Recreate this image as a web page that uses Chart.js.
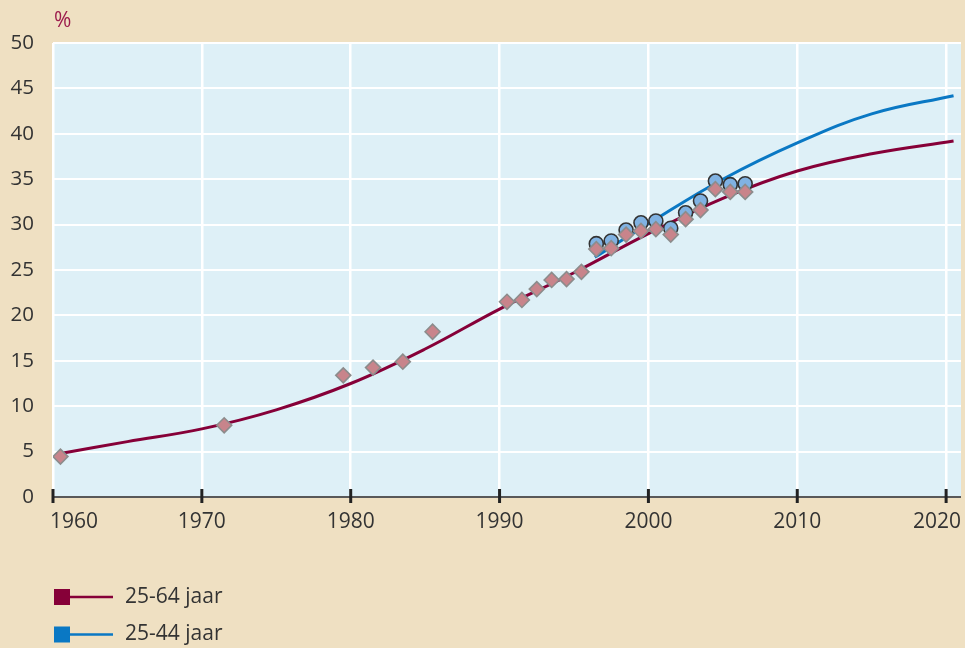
<!DOCTYPE html>
<html>
<head>
<meta charset="utf-8">
<script src="https://cdn.jsdelivr.net/npm/chart.js@4"></script>
<style>
  html, body { margin: 0; padding: 0; background: #efe0c2; }
  #chart { display: block; }
</style>
</head>
<body>
<canvas id="chart" width="965" height="648"></canvas>
<script>
// trend lines
var trendYears64 = [1960.5, 1965, 1970, 1975, 1980, 1985, 1990, 1995, 2000, 2005, 2010, 2015, 2020.5];
var trend64 = [4.8, 6.1, 7.5, 9.6, 12.5, 16.3, 20.7, 24.7, 29.0, 32.9, 35.9, 37.8, 39.2];
var trendYears44 = [1996.4, 2000, 2005, 2010, 2015, 2020.5];
var trend44 = [26.4, 30.1, 35.0, 39.0, 42.2, 44.2];

// observed values
var obsYears64 = [1960.5, 1971.5, 1979.5, 1981.5, 1983.5, 1985.5, 1990.5, 1991.5, 1992.5, 1993.5, 1994.5, 1995.5,
                  1996.5, 1997.5, 1998.5, 1999.5, 2000.5, 2001.5, 2002.5, 2003.5, 2004.5, 2005.5, 2006.5];
var obs64 = [4.45, 7.9, 13.4, 14.25, 14.9, 18.2, 21.5, 21.7, 22.9, 23.9, 24.0, 24.8,
             27.3, 27.4, 28.9, 29.3, 29.5, 28.9, 30.6, 31.6, 33.9, 33.6, 33.6];
var obsYears44 = [1996.5, 1997.5, 1998.5, 1999.5, 2000.5, 2001.5, 2002.5, 2003.5, 2004.5, 2005.5, 2006.5];
var obs44 = [27.9, 28.2, 29.4, 30.2, 30.4, 29.6, 31.3, 32.6, 34.8, 34.4, 34.5];

var xTicks = [1960, 1970, 1980, 1990, 2000, 2010, 2020];
var legendLabels = ["25-64 jaar", "25-44 jaar"];
var unitLabel = "%";

var FONT = '"Open Sans", "Noto Sans", sans-serif';
var RED = "#860038";
var BLUE = "#0a78c4";

function toPoints(xs, ys){
    var pts = [];
    for(let i=0; i<xs.length; i++){
        pts.push({x: xs[i], y: ys[i]});
    }
    return pts;
}

var extras = {
    id: "extras",
    beforeDraw: function(chart){
        var ctx = chart.ctx, a = chart.chartArea;
        ctx.save();
        ctx.fillStyle = "#efe0c2";
        ctx.fillRect(0, 0, chart.width, chart.height);
        ctx.fillStyle = "#def0f7";
        ctx.fillRect(a.left, a.top, a.right - a.left, a.bottom - a.top);
        ctx.restore();
    },
    afterDraw: function(chart){
        var ctx = chart.ctx, a = chart.chartArea, xs = chart.scales.x;
        ctx.save();
        // axis line
        ctx.strokeStyle = "#222";
        ctx.lineWidth = 1.6;
        ctx.beginPath();
        ctx.moveTo(a.left, a.bottom);
        ctx.lineTo(a.right, a.bottom);
        ctx.stroke();
        // tick marks + labels
        ctx.font = "21px " + FONT;
        ctx.fillStyle = "#333";
        ctx.textBaseline = "middle";
        ctx.textAlign = "left";
        for(let i=0; i<xTicks.length; i++){
            var px = xs.getPixelForValue(xTicks[i]);
            ctx.lineWidth = 3;
            ctx.beginPath();
            ctx.moveTo(px, a.bottom - 8);
            ctx.lineTo(px, a.bottom + 6);
            ctx.stroke();
            var label = String(xTicks[i]);
            var w = ctx.measureText(label).width;
            var left = px - w / 2;
            if(left < a.left - 3) left = a.left - 3;
            if(left + w > a.right) left = a.right - w;
            ctx.fillText(label, left, 522);
        }
        // unit
        ctx.fillStyle = "#9c1c4c";
        ctx.fillText(unitLabel, 54, 21);
        // legend
        var colors = [RED, BLUE];
        for(let i=0; i<legendLabels.length; i++){
            var cy = 597 + i * 37.5;
            ctx.fillStyle = colors[i];
            ctx.fillRect(54, cy - 8, 16, 16);
            ctx.strokeStyle = colors[i];
            ctx.lineWidth = 2.5;
            ctx.beginPath();
            ctx.moveTo(69, cy);
            ctx.lineTo(113, cy);
            ctx.stroke();
            ctx.fillStyle = "#333";
            ctx.fillText(legendLabels[i], 125, cy);
        }
        ctx.restore();
    }
};

new Chart(document.getElementById("chart"), {
    type: "scatter",
    plugins: [extras],
    data: {
        datasets: [
            {
                label: legendLabels[0], data: toPoints(trendYears64, trend64),
                showLine: true, borderColor: RED, borderWidth: 3, pointRadius: 0,
                tension: 0.4, order: 3
            },
            {
                label: legendLabels[1], data: toPoints(trendYears44, trend44),
                showLine: true, borderColor: BLUE, borderWidth: 3, pointRadius: 0,
                tension: 0.4, order: 2
            },
            {
                label: "obs 25-44", data: toPoints(obsYears44, obs44),
                pointStyle: "circle", pointRadius: 7, backgroundColor: "#80b2e2",
                borderColor: "#333", borderWidth: 1.6, order: 1
            },
            {
                label: "obs 25-64", data: toPoints(obsYears64, obs64),
                pointStyle: "rectRot", pointRadius: 7.5, backgroundColor: "#c8848b",
                borderColor: "#8c8c8c", borderWidth: 1.6, order: 0
            }
        ]
    },
    options: {
        responsive: false,
        animation: false,
        layout: { autoPadding: false, padding: { left: 0, top: 43, right: 4, bottom: 151 } },
        plugins: { legend: { display: false }, tooltip: { enabled: false } },
        scales: {
            x: {
                type: "linear", min: 1960, max: 2021,
                afterBuildTicks: function(axis){ axis.ticks = xTicks.map(function(v){ return {value: v}; }); },
                afterFit: function(axis){ axis.height = 0; },
                ticks: { display: false },
                grid: { color: "#ffffff", lineWidth: 2.5, drawTicks: false },
                border: { display: false }
            },
            y: {
                min: 0, max: 50,
                afterFit: function(axis){ axis.width = 53; },
                ticks: { stepSize: 5, padding: 19, color: "#333", font: { family: FONT, size: 20.5 } },
                grid: { color: "#ffffff", lineWidth: 2, drawTicks: false },
                border: { display: false }
            }
        }
    }
});
</script>
</body>
</html>
